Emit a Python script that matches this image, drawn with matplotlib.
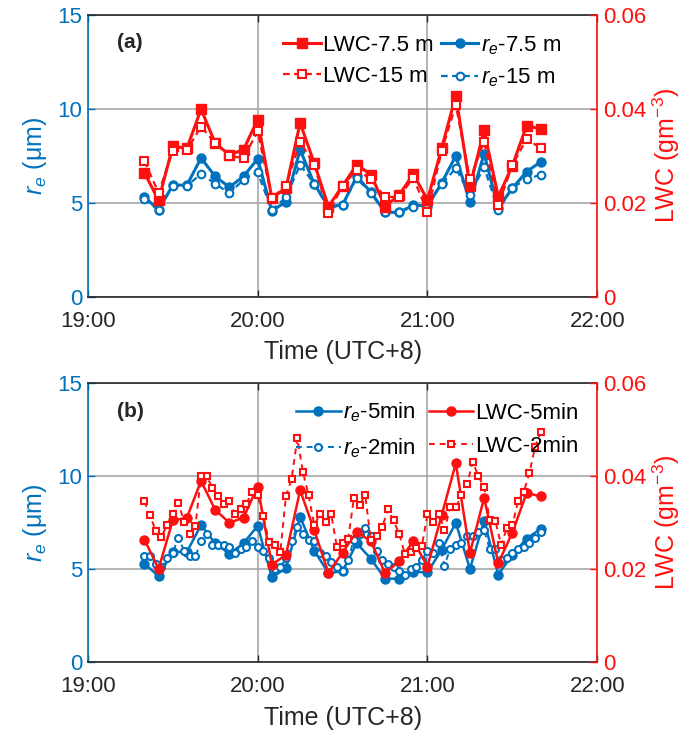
import matplotlib
matplotlib.use('Agg')
import matplotlib.pyplot as plt
import matplotlib.dates as mdates
import pandas as pd

plt.rcParams['font.family'] = ['Liberation Sans', 'DejaVu Sans']
plt.rcParams['mathtext.fontset'] = 'custom'
plt.rcParams['mathtext.rm'] = 'Liberation Sans'
plt.rcParams['mathtext.it'] = 'Liberation Sans:italic'

# ---------------- data ----------------
times_5min = pd.date_range('2000-01-01 19:20', '2000-01-01 21:40', freq='5min')
times_2min = pd.date_range('2000-01-01 19:20', '2000-01-01 21:40', freq='2min')

re_75m = [5.30, 4.63, 5.94, 5.94, 7.38, 6.40, 5.83, 6.40, 7.34, 4.57,
          5.05, 7.82, 6.00, 4.80, 4.89, 6.40, 5.57, 4.49, 4.50, 4.86,
          4.84, 6.05, 7.50, 5.02, 7.61, 4.72, 5.78, 6.65, 7.18]
lwc_75m = [0.0264, 0.0205, 0.0320, 0.0316, 0.0399, 0.0327, 0.0302, 0.0313, 0.0377, 0.0210,
           0.0231, 0.0370, 0.0284, 0.0192, 0.0236, 0.0281, 0.0260, 0.0192, 0.0217, 0.0261,
           0.0206, 0.0316, 0.0428, 0.0235, 0.0354, 0.0213, 0.0279, 0.0364, 0.0357]
re_15m = [5.20, 4.60, 5.90, 5.90, 6.54, 6.01, 5.51, 6.22, 6.61, 4.60,
          5.30, 7.02, 6.00, 4.70, 4.90, 6.30, 5.50, 4.50, 4.50, 4.80,
          4.80, 6.00, 6.84, 5.43, 6.90, 4.60, 5.80, 6.26, 6.49]
lwc_15m = [0.0289, 0.0221, 0.0310, 0.0312, 0.0362, 0.0327, 0.0300, 0.0295, 0.0352, 0.0210,
           0.0236, 0.0330, 0.0280, 0.0178, 0.0236, 0.0270, 0.0250, 0.0212, 0.0213, 0.0253,
           0.0180, 0.0310, 0.0408, 0.0250, 0.0330, 0.0195, 0.0280, 0.0336, 0.0316]

re_5min = [5.30, 4.63, 5.94, 5.94, 7.38, 6.40, 5.83, 6.40, 7.34, 4.57,
           5.05, 7.82, 6.00, 4.80, 4.89, 6.40, 5.57, 4.49, 4.50, 4.86,
           4.84, 6.05, 7.50, 5.02, 7.61, 4.72, 5.78, 6.65, 7.18]
lwc_5min = [0.0264, 0.0201, 0.0305, 0.0311, 0.0390, 0.0328, 0.0300, 0.0311, 0.0378, 0.0210,
            0.0231, 0.0370, 0.0284, 0.0192, 0.0236, 0.0281, 0.0260, 0.0192, 0.0217, 0.0261,
            0.0206, 0.0316, 0.0428, 0.0235, 0.0354, 0.0213, 0.0279, 0.0364, 0.0357]
re_2min = [5.7, 5.7, 5.3, 5.1, 5.6, 5.9, 6.7, 6.0, 5.7, 5.7,
           6.5, 6.9, 6.3, 6.3, 6.3, 6.2, 5.9, 6.1, 6.2, 6.5,
           6.2, 6.0, 5.6, 5.0, 5.1, 5.6, 6.5, 7.3, 6.9, 6.6,
           6.5, 5.9, 5.7, 5.4, 5.1, 4.9, 5.5, 6.6, 6.9, 7.2,
           6.8, 6.0, 5.5, 5.3, 5.1, 4.9, 4.7, 5.0, 5.1, 5.5,
           6.0, 5.9, 6.4, 5.2, 6.1, 6.3, 6.4, 6.8, 6.8, 7.0,
           7.1, 6.1, 6.1, 5.5, 5.6, 5.9, 6.1, 6.2, 6.4, 6.7,
           7.0]
lwc_2min = [0.0346, 0.0316, 0.0282, 0.0270, 0.0295, 0.0318, 0.0343, 0.0302, 0.0275, 0.0293,
            0.0400, 0.0400, 0.0375, 0.0358, 0.0341, 0.0346, 0.0318, 0.0330, 0.0341, 0.0366,
            0.0359, 0.0315, 0.0259, 0.0253, 0.0237, 0.0358, 0.0394, 0.0482, 0.0409, 0.0359,
            0.0295, 0.0318, 0.0302, 0.0318, 0.0248, 0.0257, 0.0266, 0.0353, 0.0339, 0.0359,
            0.0262, 0.0272, 0.0290, 0.0329, 0.0305, 0.0276, 0.0233, 0.0238, 0.0245, 0.0250,
            0.0319, 0.0302, 0.0320, 0.0284, 0.0333, 0.0333, 0.0359, 0.0384, 0.0431, 0.0400,
            0.0377, 0.0305, 0.0304, 0.0252, 0.0288, 0.0295, 0.0347, 0.0366, 0.0407, 0.0463,
            0.0495]

re_ticks = [0, 5, 10, 15]
lwc_ticks = [0, 0.02, 0.04, 0.06]
lwc_ticklabels = ['0', '0.02', '0.04', '0.06']
x_start = pd.Timestamp('2000-01-01 19:00')
x_end = pd.Timestamp('2000-01-01 22:00')

# ---------------- style ----------------
BLUE = '#0072BD'
RED = '#FF1010'
DARK = '#262626'
TICK_FS = 16
LABEL_FS = 18

fig = plt.figure(figsize=(6.97, 7.40), dpi=100)
ax_a = fig.add_axes([0.126, 0.599, 0.731, 0.381])
ax_b = fig.add_axes([0.126, 0.105, 0.731, 0.377])


def setup(ax):
    ax2 = ax.twinx()
    ax.set_xlim(x_start, x_end)
    ax.set_ylim(0, 15)
    ax.set_yticks(re_ticks)
    ax2.set_ylim(0, 0.06)
    ax2.set_yticks(lwc_ticks)
    ax2.set_yticklabels(lwc_ticklabels)
    ax.xaxis.set_major_locator(mdates.HourLocator())
    ax.xaxis.set_major_formatter(mdates.DateFormatter('%H:%M'))
    ax.grid(True, color='#a0a0a0', lw=1.1)
    ax.set_axisbelow(True)
    for s in ['top', 'bottom']:
        ax.spines[s].set_color(DARK)
        ax.spines[s].set_linewidth(1.2)
        ax2.spines[s].set_visible(False)
    ax.spines['left'].set_color(BLUE)
    ax.spines['left'].set_linewidth(1.2)
    ax.spines['right'].set_visible(False)
    ax2.spines['left'].set_visible(False)
    ax2.spines['right'].set_color(RED)
    ax2.spines['right'].set_linewidth(1.2)
    ax.tick_params(axis='x', direction='in', top=True, length=5, width=1,
                   colors=DARK, labelsize=TICK_FS, pad=10)
    ax.tick_params(axis='y', direction='in', length=5, width=1,
                   colors=BLUE, labelsize=TICK_FS, pad=4)
    ax2.tick_params(axis='y', direction='in', length=5, width=1,
                    colors=RED, labelsize=TICK_FS, pad=4)
    ax.set_xlabel('Time (UTC+8)', fontsize=LABEL_FS, color=DARK, labelpad=6)
    ax.set_ylabel(r'$r_e$ (μm)', fontsize=LABEL_FS, color=BLUE, labelpad=6)
    ax2.set_ylabel(r'LWC (gm$^{-3}$)', fontsize=LABEL_FS, color=RED, labelpad=3)
    return ax2


# ---- panel (a)
a2 = setup(ax_a)
h_re75, = ax_a.plot(times_5min, re_75m, '-o', color=BLUE, lw=2.2, ms=6.5,
                    label=r'$r_e$-7.5 m')
h_re15, = ax_a.plot(times_5min, re_15m, '--o', color=BLUE, lw=1.6, ms=5.5,
                    mfc='white', mew=1.5, dashes=(3, 2), label=r'$r_e$-15 m')
h_l75, = a2.plot(times_5min, lwc_75m, '-s', color=RED, lw=2.2, ms=6.5,
                 label='LWC-7.5 m')
h_l15, = a2.plot(times_5min, lwc_15m, '--s', color=RED, lw=1.6, ms=5.5,
                 mfc='white', mew=1.5, dashes=(3, 2), label='LWC-15 m')
a2.legend(handles=[h_l75, h_l15, h_re75, h_re15], ncol=2, frameon=False,
          loc='upper left', bbox_to_anchor=(0.375, 0.948), fontsize=16,
          handlelength=1.7, handletextpad=0.1, columnspacing=0.3,
          labelspacing=0.45, borderaxespad=0, borderpad=0.2)
ax_a.text(0.058, 0.90, '(a)', transform=ax_a.transAxes, fontsize=15,
          fontweight='bold', va='center', ha='left', color=DARK)

# ---- panel (b)
b2 = setup(ax_b)
h_re5, = ax_b.plot(times_5min, re_5min, '-o', color=BLUE, lw=1.8, ms=6.5,
                   label=r'$r_e$-5min')
h_re2, = ax_b.plot(times_2min, re_2min, '--o', color=BLUE, lw=1.4, ms=5,
                   mfc='white', mew=1.5, dashes=(3, 2.5), label=r'$r_e$-2min')
h_l5, = b2.plot(times_5min, lwc_5min, '-o', color=RED, lw=1.8, ms=6.5,
                label='LWC-5min')
h_l2, = b2.plot(times_2min, lwc_2min, '--s', color=RED, lw=1.4, ms=5,
                mfc='white', mew=1.5, dashes=(3, 2.5), label='LWC-2min')
b2.legend(handles=[h_re5, h_re2, h_l5, h_l2], ncol=2, frameon=False,
          loc='upper left', bbox_to_anchor=(0.40, 0.953), fontsize=16,
          handlelength=2.0, handletextpad=0.1, columnspacing=0.6,
          labelspacing=0.55, borderaxespad=0, borderpad=0.2)
ax_b.text(0.058, 0.90, '(b)', transform=ax_b.transAxes, fontsize=15,
          fontweight='bold', va='center', ha='left', color=DARK)

fig.savefig('out.png', dpi=100)
